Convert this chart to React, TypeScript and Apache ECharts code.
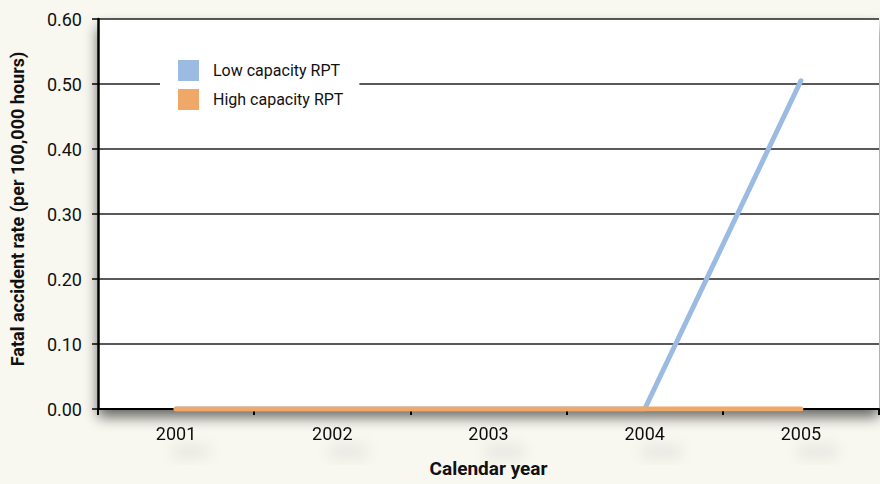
import React, { useEffect, useRef } from "react";
import * as echarts from "echarts";

const categories = ["2001", "2002", "2003", "2004", "2005"];
const lowCapacity = [0, 0, 0, 0, 0.505];
const highCapacity = [0, 0, 0, 0, 0];
const seriesNames = ["Low capacity RPT", "High capacity RPT"];

const FONT = 'Roboto, "Liberation Sans", sans-serif';

export default function App() {
  const ref = useRef<HTMLDivElement>(null);
  useEffect(() => {
    document.body.style.margin = "0";
    const chart = echarts.init(ref.current!, null, { renderer: "svg" });
    chart.setOption({
      animation: false,
      backgroundColor: "#f8f7f0",
      textStyle: { fontFamily: FONT },
      grid: {
        left: 98,
        right: 1,
        top: 19,
        bottom: 75,
        show: true,
        backgroundColor: "#ffffff",
        borderWidth: 0,
        shadowColor: "rgba(0,0,0,0.6)",
        shadowBlur: 14,
        shadowOffsetY: 8,
      },
      legend: {
        orient: "vertical",
        left: 160,
        top: 57,
        padding: [3, 16, 7, 18],
        backgroundColor: "#ffffff",
        itemWidth: 21,
        itemHeight: 21,
        itemGap: 8,
        icon: "rect",
        data: seriesNames,
        textStyle: {
          fontFamily: FONT,
          fontSize: 16,
          color: "#111",
          padding: [0, 0, 0, 9],
        },
      },
      xAxis: {
        type: "category",
        data: categories,
        boundaryGap: true,
        name: "Calendar year",
        nameLocation: "middle",
        nameGap: 50,
        nameTextStyle: {
          fontFamily: FONT,
          fontSize: 19,
          fontWeight: "bold",
          color: "#111",
        },
        axisLine: { show: true, lineStyle: { color: "#000", width: 2 } },
        axisTick: { show: true, length: 6, lineStyle: { color: "#000", width: 2 } },
        axisLabel: {
          fontFamily: FONT,
          fontSize: 18,
          color: "#111",
          margin: 15,
          textShadowColor: "rgba(0,0,0,0.2)",
          textShadowBlur: 14,
          textShadowOffsetX: 16,
          textShadowOffsetY: 18,
        },
        splitLine: { show: false },
      },
      yAxis: {
        type: "value",
        min: 0,
        max: 0.6,
        interval: 0.1,
        name: "Fatal accident rate (per 100,000 hours)",
        nameLocation: "middle",
        nameGap: 72,
        nameTextStyle: {
          fontFamily: FONT,
          fontSize: 18,
          fontWeight: "bold",
          color: "#111",
          padding: [0, 0, 0, 10],
        },
        axisLine: { show: true, lineStyle: { color: "#000", width: 2.5 } },
        axisTick: { show: true, length: 6, lineStyle: { color: "#000", width: 1.5 } },
        axisLabel: {
          fontFamily: FONT,
          fontSize: 18,
          color: "#111",
          margin: 16,
          formatter: (v: number) => v.toFixed(2),
        },
        splitLine: { show: true, lineStyle: { color: "#222", width: 1.5 } },
      },
      series: [
        {
          name: seriesNames[0],
          type: "line",
          data: lowCapacity,
          symbol: "none",
          color: "#9bbbe2",
          lineStyle: { color: "#9bbbe2", width: 5, cap: "round" },
          z: 3,
        },
        {
          name: seriesNames[1],
          type: "line",
          data: highCapacity,
          symbol: "none",
          color: "#f0a868",
          lineStyle: { color: "#f0a868", width: 5, cap: "round" },
          z: 4,
        },
      ],
    });
    return () => chart.dispose();
  }, []);
  return (
    <div
      ref={ref}
      style={{ position: "absolute", left: 0, top: 0, width: 880, height: 484 }}
    />
  );
}
